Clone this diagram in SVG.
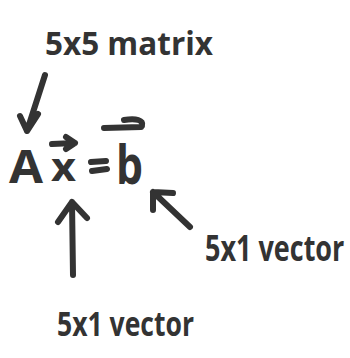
<svg xmlns="http://www.w3.org/2000/svg" width="350" height="358" viewBox="0 0 350 358">
<style>
.t{font-family:"Open Sans","Liberation Sans",sans-serif;font-weight:700;fill:#333}
.s{fill:none;stroke:#333;stroke-width:6;stroke-linecap:round;stroke-linejoin:round}
</style>
<rect width="350" height="358" fill="#fff"/>
<g id="equation">
<text class="t" x="9" y="183" font-size="46" textLength="34" lengthAdjust="spacingAndGlyphs">A</text>
<text class="t" x="51" y="181" font-size="40" textLength="25" lengthAdjust="spacingAndGlyphs">x</text>
<path class="s" d="M52 144 L75 143 M66 137 L75 143 L66 149"/>
<path class="s" d="M91 162 L106 161 M92 171 L107 169"/>
<text class="t" x="116" y="184" font-size="54" textLength="27" lengthAdjust="spacingAndGlyphs">b</text>
<path class="s" d="M104 128 L141 127 M124 120 C136 118 144 120 142 126"/>
</g>
<g id="label-matrix">
<text class="t" x="45" y="55" font-size="32" textLength="168" lengthAdjust="spacingAndGlyphs">5x5 matrix</text>
</g>
<g id="label-x">
<text class="t" x="57" y="336" font-size="34" textLength="137" lengthAdjust="spacingAndGlyphs">5x1 vector</text>
</g>
<g id="label-b">
<text class="t" transform="translate(205 261) scale(1 1.3)" x="0" y="0" font-size="27">5x1 vector</text>
</g>
<g id="connectors">
<path class="s" d="M45 75 L27 131 M20 116 L27 131 L38 114"/>
<path class="s" d="M73 275 L72 202 M58 222 L72 202 L87 218"/>
<path class="s" d="M190 227 L153 192 M153 210 L153 192 L173 193"/>
</g>
</svg>
